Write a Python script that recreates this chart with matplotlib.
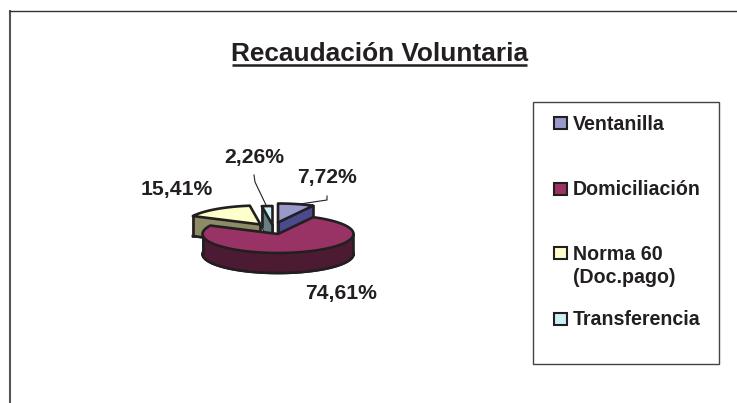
import numpy as np
import matplotlib
matplotlib.use("Agg")
import matplotlib.pyplot as plt
from matplotlib.patches import Polygon, Rectangle

plt.rcParams['font.family'] = ['Liberation Sans', 'DejaVu Sans']

title = "Recaudación Voluntaria"
categories = ["Ventanilla", "Domiciliación", "Norma 60\n(Doc.pago)", "Transferencia"]
values = [7.72, 74.61, 15.41, 2.26]
value_labels = ["7,72%", "74,61%", "15,41%", "2,26%"]
top_colors = ["#9999CC", "#993366", "#FFFFCC", "#CCEEF5"]
side_colors = ["#4A4A8C", "#4D1A33", "#8C8C66", "#668080"]

INK = "#231F20"
W, H = 737, 403
fig = plt.figure(figsize=(W / 100, H / 100), dpi=100)
ax = fig.add_axes([0, 0, 1, 1])
ax.set_xlim(0, W)
ax.set_ylim(H, 0)
ax.axis("off")

# Frame: top and left edges only
ax.plot([10, 10], [10, H], color="#555555", lw=1.5, zorder=1, solid_capstyle="butt")
ax.plot([9, W], [10.5, 10.5], color="#333333", lw=1.0, zorder=1, solid_capstyle="butt")

# Title
ax.text(379.5, 60.7, title, fontsize=18.9, fontweight="bold", ha="center",
        va="baseline", color=INK)
ax.plot([232, 527], [64.5, 64.5], color=INK, lw=1.8, solid_capstyle="butt")

# 3-D pie
RX, RY, DEPTH = 75.5, 19.0, 20.0
apexes = [(278, 222.5), (278, 234), (260.5, 224.5), (272.5, 225)]
order = [0, 2, 3, 1]
edges = np.cumsum([0] + values) / 100 * 2 * np.pi
LW = 1.9


def slice_outline(i):
    t = np.linspace(edges[i], edges[i + 1], 90)
    ax_, ay_ = apexes[i]
    xs = ax_ + RX * np.sin(t)
    ys = ay_ - RY * np.cos(t)
    return t, np.column_stack([np.r_[ax_, xs], np.r_[ay_, ys]])


z = 3
for i in order:
    t, pts = slice_outline(i)
    closed = np.vstack([pts, pts[:1]])
    quads = []
    for a, b in zip(closed[:-1], closed[1:]):
        quads.append(np.array([a, b, b + [0, DEPTH], a + [0, DEPTH]]))
    quads.sort(key=lambda q: q[:, 1].mean())
    ax.add_patch(Polygon(pts + [0, DEPTH], closed=True, fc=side_colors[i],
                         ec=INK, lw=LW, zorder=z))
    for q in quads:
        z += 0.001
        ax.add_patch(Polygon(q, closed=True, fc=side_colors[i],
                             ec=side_colors[i], lw=0.3, zorder=z))
    # silhouette verticals of the wall
    xmin, xmax = pts[:, 0].min(), pts[:, 0].max()
    for xv in (xmin, xmax):
        y0 = pts[np.argmin(np.abs(pts[:, 0] - xv)), 1]
        z += 0.001
        ax.plot([xv, xv], [y0, y0 + DEPTH], color=INK, lw=LW, zorder=z)
    # bottom rim: only the front half of the ellipse is visible
    front = np.cos(t) < 0
    if front.any():
        rim = pts[1:][front] + [0, DEPTH]
        z += 0.001
        ax.plot(rim[:, 0], rim[:, 1], color=INK, lw=LW, zorder=z)
    # bottom edges of the cut faces
    cut_tips = [pts[1], pts[-1]]
    for tip in cut_tips:
        if tip[1] > pts[0, 1] - 9 and tip[0] < pts[0, 0] and i == 2:
            z += 0.001
            ax.plot([tip[0], pts[0, 0]], [tip[1] + DEPTH, pts[0, 1] + DEPTH],
                    color=INK, lw=LW, zorder=z)
    z += 1
    ax.add_patch(Polygon(pts, closed=True, fc=top_colors[i], ec=INK, lw=LW,
                         joinstyle="round", zorder=z))
    z += 1

# Value labels
label_pos = [(327.5, 177), (341, 293), (176.5, 190), (254, 157)]
for s, (x, y) in zip(value_labels, label_pos):
    ax.text(x, y, s, fontsize=15.2, fontweight="bold", ha="center", va="center",
            color=INK, zorder=50)

# Leader lines
ax.plot([300, 327, 327], [204, 200, 196], color=INK, lw=0.8, zorder=50)
ax.plot([254, 255, 266], [175, 182, 205], color=INK, lw=0.8, zorder=50)

# Legend
ax.add_patch(Rectangle((533, 102), 186, 261.5, fc="white", ec="#444444", lw=1.0, zorder=2))
marker_y = [123, 188.7, 253, 318.7]
for name, color, y in zip(categories, top_colors, marker_y):
    ax.add_patch(Rectangle((554.5, y - 6.2), 13, 12.5, fc=color, ec=INK, lw=1.5, zorder=3))
    for k, line in enumerate(name.split("\n")):
        ax.text(573, y + 6.5 + k * 23.7, line, fontsize=14.1, fontweight="bold", ha="left",
                va="baseline", color=INK, zorder=3)

fig.savefig("out.png", dpi=100, facecolor="white")
